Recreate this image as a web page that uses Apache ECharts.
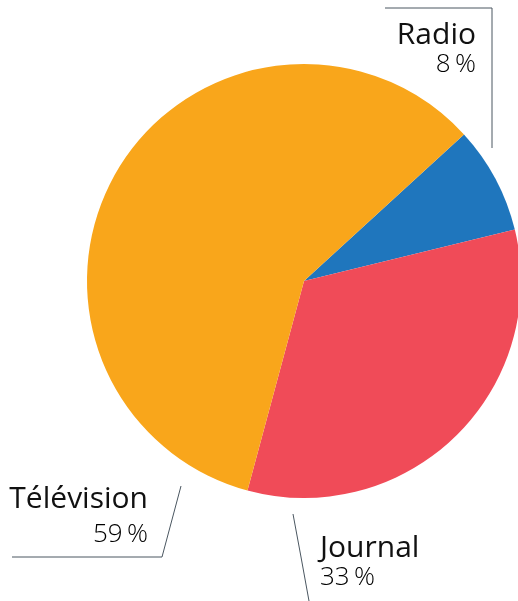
<!DOCTYPE html>
<html><head><meta charset="utf-8">
<script src="https://cdn.jsdelivr.net/npm/echarts@6/dist/echarts.min.js"></script>
<style>html,body{margin:0;padding:0;background:#fff}#c{width:518px;height:601px}</style>
</head><body><div id="c"></div>
<script>
const categories = ['Radio', 'Journal', 'Télévision'];
const values = [8, 33, 59];
const colors = ['#1f76bd', '#f04b58', '#f9a61b'];

// label placement (pixel anchors for the annotation callouts)
const labelPos = [
  {x: 476, y: 50, align: 'right', lh: 29, line: [[492,148],[492,8],[385,8]]},
  {x: 320, y: 563, align: 'left', lh: 30, line: [[293,514],[301,557],[309,601]]},
  {x: 148, y: 517, align: 'right', lh: 36, line: [[181,486],[162,557],[12,557]]}
];

const chart = echarts.init(document.getElementById('c'), null, {renderer: 'canvas'});
chart.setOption({
  animation: false,
  series: [{
    type: 'pie',
    center: [304, 281],
    radius: 217,
    startAngle: 42.5,
    clockwise: true,
    avoidLabelOverlap: false,
    data: categories.map((n, i) => ({
      name: n, value: values[i],
      itemStyle: {color: colors[i]},
      label: {
        rich: {
          n: {fontFamily: 'Open Sans', fontSize: 30, color: '#111', lineHeight: labelPos[i].lh},
          p: {fontFamily: 'Open Sans', fontWeight: 300, fontSize: 26, color: '#000', lineHeight: labelPos[i].lh}
        }
      }
    })),
    label: {
      show: true,
      position: 'outside',
      overflow: 'none',
      alignTo: 'none',
      formatter: p => '{n|' + p.name + '}\n{p|' + p.value + '\u2009%}'
    },
    labelLine: {show: true, lineStyle: {color: '#4a5660', width: 1}},
    labelLayout: function (params) {
      const L = labelPos[params.dataIndex];
      return {x: L.x, y: L.y, align: L.align, verticalAlign: 'middle', hideOverlap: false, moveOverlap: null, labelLinePoints: L.line};
    },
    emphasis: {disabled: true}
  }]
});
</script></body></html>
